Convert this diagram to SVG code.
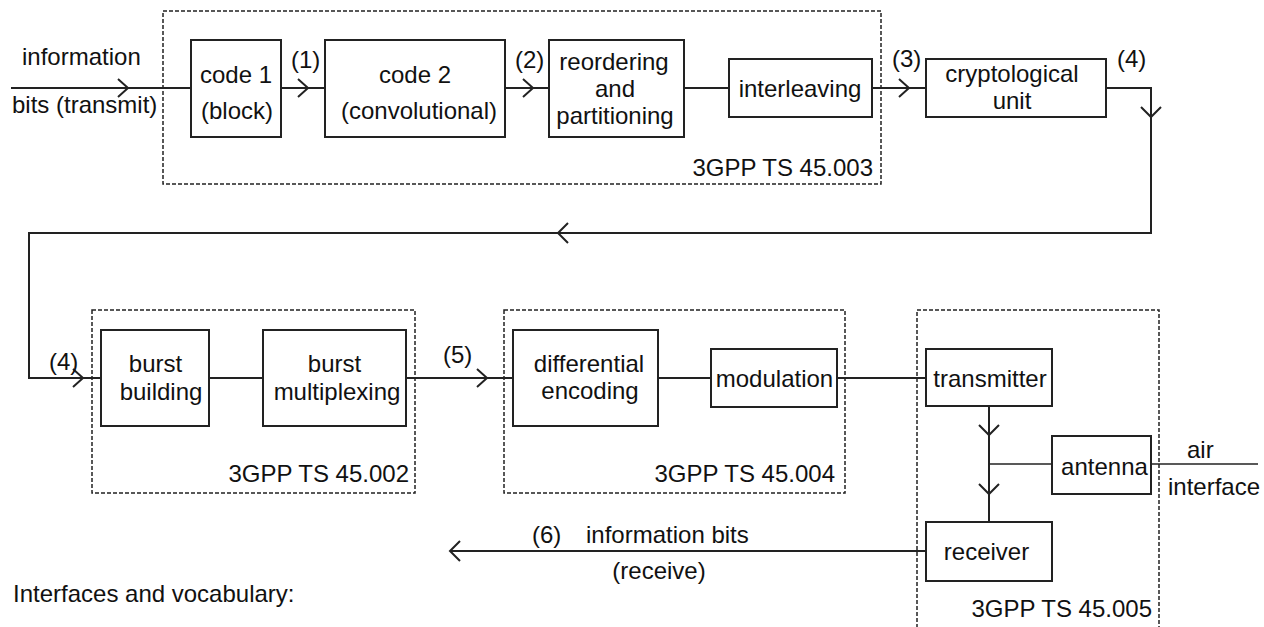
<svg xmlns="http://www.w3.org/2000/svg" width="1264" height="627" viewBox="0 0 1264 627">
<style>
text{font-family:"Liberation Sans",Arial,sans-serif;font-size:24px;fill:#111}
.c{text-anchor:middle}
.e{text-anchor:end}
.box{fill:#fff;stroke:#222;stroke-width:2}
.grp{fill:none;stroke:#222;stroke-width:1.5;stroke-dasharray:4 2}
.ln{fill:none;stroke:#222;stroke-width:2}
.thin{fill:none;stroke:#222;stroke-width:1.5}
</style>
<rect width="1264" height="627" fill="#fff"/>
<g id="groups">
<g id="ts45003"><rect class="grp" x="163" y="11" width="718" height="173"/><text class="e" x="873" y="176">3GPP TS 45.003</text></g>
<g id="ts45002"><rect class="grp" x="92" y="310" width="323" height="183"/><text class="e" x="409" y="482">3GPP TS 45.002</text></g>
<g id="ts45004"><rect class="grp" x="504" y="310" width="341" height="183"/><text class="e" x="835" y="482">3GPP TS 45.004</text></g>
<g id="ts45005"><rect class="grp" x="917" y="310" width="242" height="340"/><text class="e" x="1152" y="617">3GPP TS 45.005</text></g>
</g>
<g id="connectors">
<path class="ln" d="M11 88H191M118 79L128 88L118 97"/>
<path class="ln" d="M281 88H325M298 79L308 88L298 97"/>
<path class="ln" d="M505 88H549M523 79L533 88L523 97"/>
<path class="ln" d="M684 88H729"/>
<path class="ln" d="M872 88H926M899 79L909 88L899 97"/>
<path class="ln" d="M1106 88H1151V233H29V378H101M1141 107L1151 117L1161 107M568 223L558 233L568 243M73 369L83 378L73 387"/>
<path class="ln" d="M209 378H263"/>
<path class="ln" d="M406 378H513M477 369L487 378L477 387"/>
<path class="ln" d="M658 378H711"/>
<path class="ln" d="M837 378H926"/>
<path class="ln" d="M989 406V522M979 425L989 435L999 425M979 484L989 494L999 484"/>
<path class="thin" d="M989 464H1052"/>
<path class="thin" d="M1151 464H1258"/>
<path class="ln" d="M926 551H450M460 541L450 551L460 561"/>
</g>
<g id="labels">
<text x="22" y="65">information</text>
<text x="12" y="113">bits (transmit)</text>
<text x="291" y="68">(1)</text>
<text x="515" y="68">(2)</text>
<text x="892" y="67">(3)</text>
<text x="1117" y="67">(4)</text>
<text x="49" y="370">(4)</text>
<text x="443" y="363">(5)</text>
<text x="1187" y="458">air</text>
<text x="1168" y="495">interface</text>
<text x="532" y="543">(6)</text>
<text x="586" y="543">information bits</text>
<text class="c" x="659" y="579">(receive)</text>
<text x="13" y="602">Interfaces and vocabulary:</text>
</g>
<g id="code1"><rect class="box" x="191" y="40" width="90" height="97"/><text class="c" x="236" y="83">code 1</text><text class="c" x="237" y="119">(block)</text></g>
<g id="code2"><rect class="box" x="325" y="40" width="180" height="97"/><text class="c" x="415" y="83">code 2</text><text class="c" x="419" y="119">(convolutional)</text></g>
<g id="reordering"><rect class="box" x="549" y="40" width="135" height="97"/><text class="c" x="614" y="70">reordering</text><text class="c" x="615" y="97">and</text><text class="c" x="615" y="124">partitioning</text></g>
<g id="interleaving"><rect class="box" x="729" y="59" width="143" height="58"/><text class="c" x="800" y="97">interleaving</text></g>
<g id="crypto"><rect class="box" x="926" y="59" width="180" height="58"/><text class="c" x="1012" y="82">cryptological</text><text class="c" x="1012" y="109">unit</text></g>
<g id="burstbuilding"><rect class="box" x="101" y="330" width="108" height="96"/><text class="c" x="155.5" y="372">burst</text><text class="c" x="161" y="400">building</text></g>
<g id="burstmux"><rect class="box" x="263" y="330" width="143" height="96"/><text class="c" x="334.5" y="372">burst</text><text class="c" x="337" y="400">multiplexing</text></g>
<g id="differential"><rect class="box" x="513" y="330" width="145" height="96"/><text class="c" x="589" y="372">differential</text><text class="c" x="590" y="399">encoding</text></g>
<g id="modulation"><rect class="box" x="711" y="349" width="126" height="58"/><text class="c" x="774.5" y="387">modulation</text></g>
<g id="transmitter"><rect class="box" x="926" y="349" width="126" height="57"/><text class="c" x="990" y="387">transmitter</text></g>
<g id="antenna"><rect class="box" x="1052" y="436" width="99" height="58"/><text class="c" x="1104.5" y="475">antenna</text></g>
<g id="receiver"><rect class="box" x="926" y="522" width="126" height="59"/><text class="c" x="986.5" y="560">receiver</text></g>
</svg>
